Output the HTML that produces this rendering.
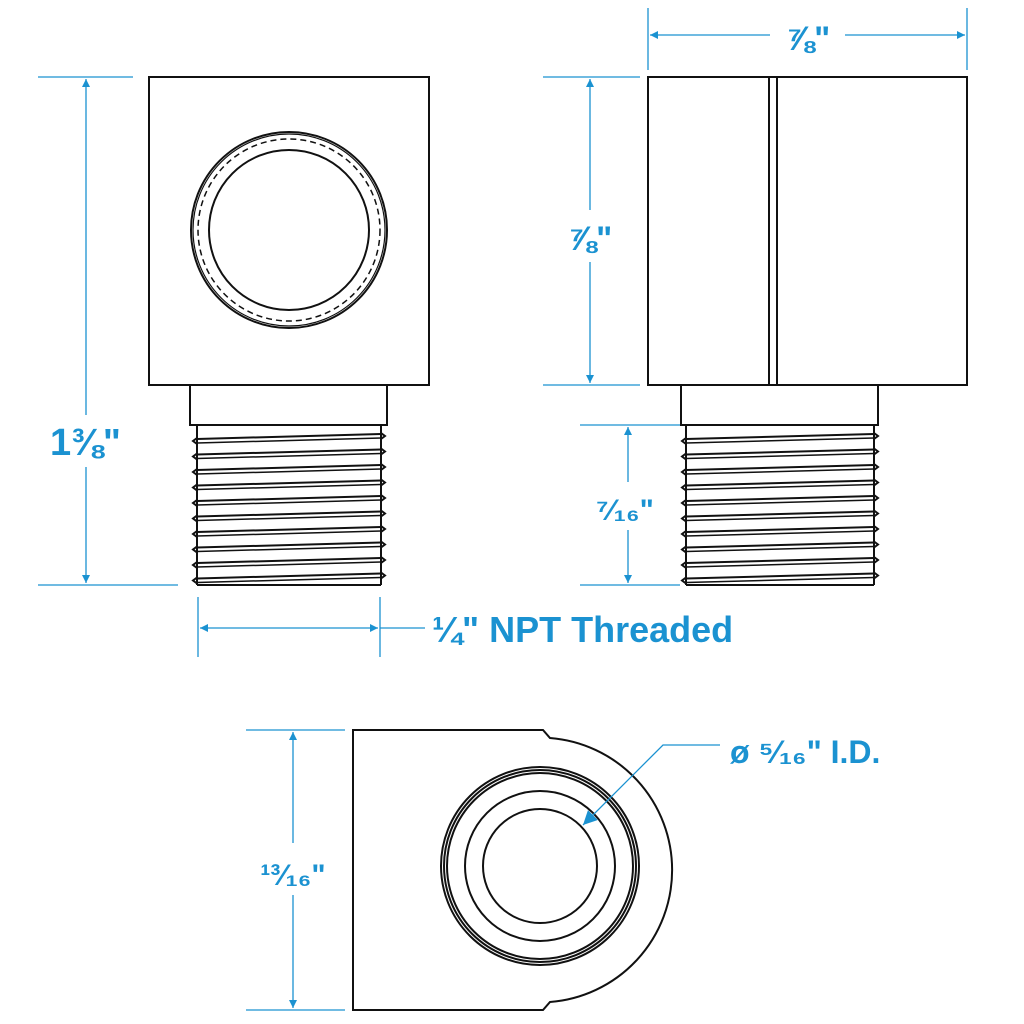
<!DOCTYPE html>
<html><head><meta charset="utf-8"><style>
html,body{margin:0;padding:0;background:#fff;}
svg{display:block}
text{font-family:"Liberation Sans",sans-serif;font-weight:bold;fill:#1b92d1}
</style></head><body>
<svg id="s" width="1024" height="1024" viewBox="0 0 1024 1024" xmlns="http://www.w3.org/2000/svg">
<defs>
<marker id="a" viewBox="0 0 10 10" refX="10" refY="5" markerWidth="8" markerHeight="8" orient="auto-start-reverse" markerUnits="userSpaceOnUse"><path d="M0,0 L10,5 L0,10 z" fill="#1b92d1"/></marker>
<marker id="b" viewBox="0 0 10 10" refX="10" refY="5" markerWidth="18" markerHeight="14" orient="auto" markerUnits="userSpaceOnUse"><path d="M0,0 L10,5 L0,10 z" fill="#1b92d1"/></marker>
</defs>
<g fill="none" stroke="#111" stroke-width="2">
<rect x="149" y="77" width="280" height="308"/>
<circle cx="289" cy="230" r="98"/>
<circle cx="289" cy="230" r="96" stroke-width="1.2"/>
<circle cx="289" cy="230" r="91" stroke-dasharray="6 4" stroke-width="1.5"/>
<circle cx="289" cy="230" r="80"/>
<rect x="190" y="385" width="197" height="40"/>
<line x1="197" y1="425" x2="197" y2="585"/><line x1="381" y1="425" x2="381" y2="585"/>
<line x1="197" y1="585" x2="381" y2="585"/>
<rect x="648" y="77" width="319" height="308"/>
<line x1="769" y1="77" x2="769" y2="385"/><line x1="777" y1="77" x2="777" y2="385"/>
<rect x="681" y="385" width="197" height="40"/>
<line x1="686" y1="425" x2="686" y2="585"/><line x1="874" y1="425" x2="874" y2="585"/>
<line x1="686" y1="585" x2="874" y2="585"/>
<path d="M543,730 L353,730 L353,1010 L543,1010 L550,1002 A132.4,132.4 0 0 0 550,738 Z"/>
<circle cx="540" cy="866" r="99"/>
<circle cx="540" cy="866" r="96"/>
<circle cx="540" cy="866" r="93"/>
<circle cx="540" cy="866" r="75"/>
<circle cx="540" cy="866" r="57"/>
<g id="thr"></g>
</g>
<g stroke="#1b92d1" stroke-width="1.3" fill="none">
<line x1="38" y1="77" x2="133" y2="77"/><line x1="38" y1="585" x2="178" y2="585"/>
<line x1="86" y1="79" x2="86" y2="415" marker-start="url(#a)"/>
<line x1="86" y1="467" x2="86" y2="583" marker-end="url(#a)"/>
<line x1="648" y1="8" x2="648" y2="70"/><line x1="967" y1="8" x2="967" y2="70"/>
<line x1="650" y1="35" x2="770" y2="35" marker-start="url(#a)"/>
<line x1="845" y1="35" x2="965" y2="35" marker-end="url(#a)"/>
<line x1="543" y1="77" x2="640" y2="77"/><line x1="543" y1="385" x2="640" y2="385"/>
<line x1="590" y1="79" x2="590" y2="210" marker-start="url(#a)"/>
<line x1="590" y1="262" x2="590" y2="383" marker-end="url(#a)"/>
<line x1="580" y1="425" x2="680" y2="425"/><line x1="580" y1="585" x2="680" y2="585"/>
<line x1="628" y1="427" x2="628" y2="482" marker-start="url(#a)"/>
<line x1="628" y1="530" x2="628" y2="583" marker-end="url(#a)"/>
<line x1="198" y1="597" x2="198" y2="657"/><line x1="380" y1="597" x2="380" y2="657"/>
<line x1="200" y1="628" x2="378" y2="628" marker-start="url(#a)" marker-end="url(#a)"/>
<line x1="380" y1="628" x2="425" y2="628"/>
<line x1="246" y1="730" x2="345" y2="730"/><line x1="246" y1="1010" x2="345" y2="1010"/>
<line x1="293" y1="732" x2="293" y2="843" marker-start="url(#a)"/>
<line x1="293" y1="895" x2="293" y2="1008" marker-end="url(#a)"/>
<polyline points="720,745 663,745 583,825" marker-end="url(#b)"/>
</g>
<text x="50" y="455" font-size="38">1⅜"</text>
<text x="808" y="50" font-size="34" text-anchor="middle">⅞"</text>
<text x="590" y="250" font-size="34" text-anchor="middle">⅞"</text>
<text x="625" y="520" font-size="30" text-anchor="middle">⁷⁄₁₆"</text>
<text x="432" y="642" font-size="36">¼" NPT Threaded</text>
<text x="293" y="885" font-size="30" text-anchor="middle">¹³⁄₁₆"</text>
<text x="730" y="763" font-size="32">ø ⁵⁄₁₆" I.D.</text>
</svg>
<script>
var g=document.getElementById('thr'),h='';
function th(x1,x2){for(var i=0;i<10;i++){var y=436+15.5*i;
h+='<line x1="'+x1+'" y1="'+(y+3)+'" x2="'+x2+'" y2="'+(y-2)+'"/>';
h+='<line x1="'+x1+'" y1="'+(y+7)+'" x2="'+x2+'" y2="'+(y+2)+'" stroke-width="1.5"/>';
h+='<polyline points="'+x1+','+(y+2)+' '+(x1-4)+','+(y+5)+' '+x1+','+(y+8)+'"/>';
h+='<polyline points="'+x2+','+(y-3)+' '+(x2+4)+','+(y)+' '+x2+','+(y+3)+'"/>';}}
th(197,381);th(686,874);g.innerHTML=h;
</script>
</body></html>
